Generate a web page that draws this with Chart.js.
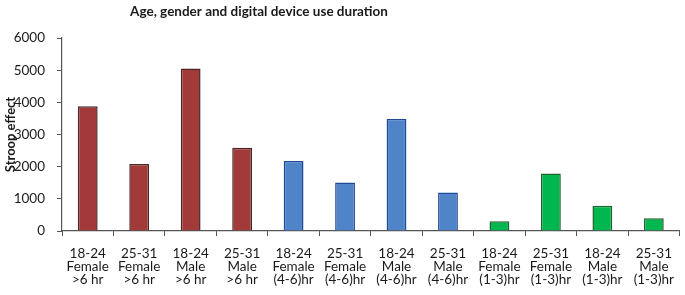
<!DOCTYPE html>
<html>
<head>
<meta charset="utf-8">
<script src="https://cdn.jsdelivr.net/npm/chart.js@4.4.1/dist/chart.umd.min.js"></script>
<style>
  html, body { margin: 0; padding: 0; background: #fff; }
  #wrap { position: relative; width: 685px; height: 295px; }
</style>
</head>
<body>
<div id="wrap"><canvas id="c" width="685" height="295"></canvas></div>
<script>
const chartTitle = "Age, gender and digital device use duration";
const yTitle = "Stroop effect";
const categories = [
  ["18-24", "Female", ">6 hr"],
  ["25-31", "Female", ">6 hr"],
  ["18-24", "Male", ">6 hr"],
  ["25-31", "Male", ">6 hr"],
  ["18-24", "Female", "(4-6)hr"],
  ["25-31", "Female", "(4-6)hr"],
  ["18-24", "Male", "(4-6)hr"],
  ["25-31", "Male", "(4-6)hr"],
  ["18-24", "Female", "(1-3)hr"],
  ["25-31", "Female", "(1-3)hr"],
  ["18-24", "Male", "(1-3)hr"],
  ["25-31", "Male", "(1-3)hr"]
];
const stroopValues = [3880, 2080, 5050, 2590, 2180, 1510, 3480, 1200, 300, 1790, 785, 400];
const durationGroup = [">6", ">6", ">6", ">6", "4-6", "4-6", "4-6", "4-6", "1-3", "1-3", "1-3", "1-3"];
const yTicks = [0, 1000, 2000, 3000, 4000, 5000, 6000];

const fillByGroup = { ">6": "#A23A3A", "4-6": "#4F85C8", "1-3": "#00B64F" };
const borderByGroup = { ">6": "#4A2626", "4-6": "#1E4A94", "1-3": "#1D6330" };

const titlePlugin = {
  id: "customTitle",
  afterDraw(chart) {
    const ctx = chart.ctx;
    ctx.save();
    ctx.font = "bold 13.5px Lato, 'Open Sans', sans-serif";
    ctx.fillStyle = "#1a1a1a";
    ctx.textAlign = "center";
    ctx.textBaseline = "middle";
    ctx.fillText(chartTitle, 259, 12);
    ctx.restore();
  }
};

new Chart(document.getElementById("c"), {
  type: "bar",
  data: {
    labels: categories,
    datasets: [{
      data: stroopValues,
      backgroundColor: durationGroup.map(g => fillByGroup[g]),
      borderColor: durationGroup.map(g => borderByGroup[g]),
      borderWidth: 1.5,
      categoryPercentage: 1.0,
      barPercentage: 0.385
    }]
  },
  plugins: [titlePlugin],
  options: {
    responsive: false,
    animation: false,
    layout: { padding: { top: 38, right: 0, left: 0, bottom: 0 } },
    plugins: {
      legend: { display: false },
      tooltip: { enabled: false },
      title: { display: false }
    },
    scales: {
      x: {
        afterFit(scale) { scale.height = 64; },
        grid: {
          display: true,
          drawOnChartArea: false,
          drawTicks: true,
          tickLength: 5,
          offset: true,
          color: "#555",
          lineWidth: 1
        },
        border: { display: true, color: "#555", width: 1.2 },
        ticks: {
          color: "#1a1a1a",
          font: { family: "Lato, 'Open Sans', sans-serif", size: 13.5, lineHeight: 0.97 },
          padding: 11,
          maxRotation: 0,
          autoSkip: false
        }
      },
      y: {
        min: 0,
        max: 6000,
        afterFit(scale) { scale.width = 62; },
        afterBuildTicks(scale) { scale.ticks = yTicks.map(v => ({ value: v })); },
        grid: {
          display: true,
          drawOnChartArea: false,
          drawTicks: true,
          tickLength: 5,
          color: "#555"
        },
        border: { display: true, color: "#555", width: 1.2 },
        ticks: {
          color: "#1a1a1a",
          font: { family: "Lato, 'Open Sans', sans-serif", size: 13.5 },
          padding: 12,
          callback: v => String(v)
        },
        title: {
          display: true,
          text: yTitle,
          color: "#1a1a1a",
          font: { family: "Lato, 'Open Sans', sans-serif", size: 13, weight: "bold" },
          padding: { top: 3, bottom: 0 }
        }
      }
    }
  }
});
</script>
</body>
</html>
